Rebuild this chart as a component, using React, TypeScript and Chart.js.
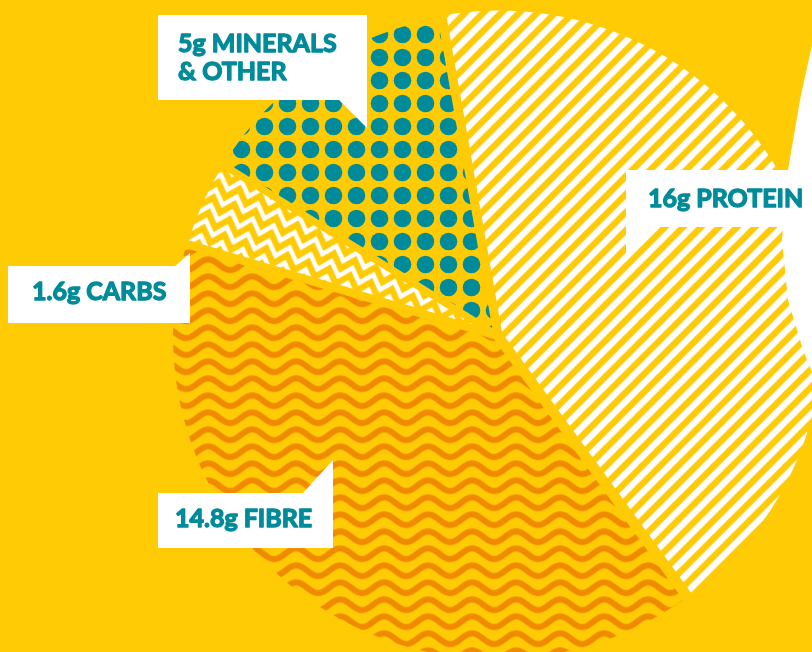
import React, { useEffect, useRef } from 'react';
import { Chart, registerables } from 'chart.js';

Chart.register(...registerables);

// ---- data ----
const categories = ['PROTEIN', 'FIBRE', 'CARBS', 'MINERALS\n& OTHER'];
const grams = [16, 14.8, 1.6, 5];

// ---- styles ----
const BG = '#FFCB05';
const TEAL = '#008B9A';
const ORANGE = '#F08A00';
const WHITE = '#FFFFFF';

// callout boxes (layout only), one per category index
const CALLOUTS = [
  { box: [626, 170, 200, 57], tip: [[626, 226], [626, 260], [659, 226]], text: [648, 207] },
  { box: [158, 493, 175, 55], tip: [[302, 494], [333, 460], [333, 494]], text: [175, 527] },
  { box: [8, 266, 182, 57], tip: [[174, 267], [190, 253], [190, 267]], text: [32, 300] },
  { box: [158, 15, 209, 85], tip: [[338, 99], [367, 128], [367, 99]], text: [178, 52] },
];

function makePattern(ctx: CanvasRenderingContext2D, w: number, h: number, draw: (g: CanvasRenderingContext2D) => void) {
  const c = document.createElement('canvas');
  c.width = w;
  c.height = h;
  const g = c.getContext('2d')!;
  g.fillStyle = BG;
  g.fillRect(0, 0, w, h);
  draw(g);
  return ctx.createPattern(c, 'repeat')!;
}

function stripes(ctx: CanvasRenderingContext2D) {
  const s = 18;
  return makePattern(ctx, s, s, (g) => {
    g.strokeStyle = WHITE;
    g.lineWidth = 6.3;
    g.beginPath();
    for (const k of [-1, 0, 1]) {
      g.moveTo(k * s - 2, s + 2);
      g.lineTo(k * s + s + 2, -2);
    }
    g.stroke();
  });
}

function dots(ctx: CanvasRenderingContext2D) {
  const s = 23;
  return makePattern(ctx, s, s, (g) => {
    g.fillStyle = TEAL;
    g.beginPath();
    g.arc(s / 2, s / 2, 8.8, 0, Math.PI * 2);
    g.fill();
  });
}

function waves(ctx: CanvasRenderingContext2D) {
  const w = 44;
  const h = 17;
  return makePattern(ctx, w, h, (g) => {
    g.strokeStyle = ORANGE;
    g.lineWidth = 6;
    for (const off of [-h, 0, h]) {
      g.beginPath();
      for (let x = -3; x <= w + 3; x += 0.5) {
        const y = h / 2 + off + 5.3 * Math.sin((2 * Math.PI * x) / w);
        if (x === -3) g.moveTo(x, y);
        else g.lineTo(x, y);
      }
      g.stroke();
    }
  });
}

function zigzag(ctx: CanvasRenderingContext2D) {
  const w = 22;
  const h = 16;
  const p = makePattern(ctx, w, h, (g) => {
    g.strokeStyle = WHITE;
    g.lineWidth = 4.5;
    g.lineJoin = 'miter';
    for (const off of [-h, 0, h]) {
      g.beginPath();
      g.moveTo(-11, 14 + off);
      g.lineTo(0, 2 + off);
      g.lineTo(11, 14 + off);
      g.lineTo(22, 2 + off);
      g.lineTo(33, 14 + off);
      g.stroke();
    }
  });
  try {
    p.setTransform(new DOMMatrix().rotate(18));
  } catch (e) {}
  return p;
}

const overlayPlugin = {
  id: 'overlay',
  afterDatasetsDraw(chart: any) {
    const ctx: CanvasRenderingContext2D = chart.ctx;
    ctx.save();
    // white backdrop shape at the right edge
    ctx.fillStyle = WHITE;
    ctx.beginPath();
    ctx.moveTo(812, 45);
    ctx.lineTo(800, 100);
    ctx.lineTo(788, 170);
    ctx.lineTo(782, 240);
    ctx.lineTo(788, 300);
    ctx.lineTo(803, 350);
    ctx.lineTo(812, 372);
    ctx.closePath();
    ctx.fill();

    const labels: string[] = chart.data.labels;
    const values: number[] = chart.data.datasets[0].data;
    labels.forEach((name, i) => {
      const c = CALLOUTS[i];
      const [bx, by, bw, bh] = c.box;
      ctx.fillStyle = WHITE;
      ctx.fillRect(bx, by, bw, bh);
      ctx.beginPath();
      ctx.moveTo(c.tip[0][0], c.tip[0][1]);
      ctx.lineTo(c.tip[1][0], c.tip[1][1]);
      ctx.lineTo(c.tip[2][0], c.tip[2][1]);
      ctx.closePath();
      ctx.fill();
      const lines = (values[i] + 'g ' + name).split('\n');
      ctx.fillStyle = TEAL;
      ctx.strokeStyle = TEAL;
      ctx.lineWidth = 1.3;
      ctx.lineJoin = 'round';
      ctx.font = 'bold 25px Lato';
      ctx.textBaseline = 'alphabetic';
      ctx.textAlign = 'left';
      lines.forEach((ln, k) => {
        ctx.fillText(ln, c.text[0], c.text[1] + k * 28);
        ctx.strokeText(ln, c.text[0], c.text[1] + k * 28);
      });
    });
    ctx.restore();
  },
};

export default function App() {
  const ref = useRef<HTMLCanvasElement>(null);
  useEffect(() => {
    const canvas = ref.current!;
    const ctx = canvas.getContext('2d')!;
    const bg = [stripes(ctx), waves(ctx), zigzag(ctx), dots(ctx)];
    const chart = new Chart(canvas, {
      type: 'pie',
      data: {
        labels: categories,
        datasets: [
          {
            data: grams,
            backgroundColor: bg as any,
            borderColor: BG,
            borderWidth: 7,
            offset: [8, 6, 0, 0],
            hoverOffset: 0,
            clip: false as any,
          },
        ],
      },
      options: {
        responsive: false,
        animation: false,
        events: [],
        rotation: -10,
        radius: 326,
        layout: { padding: { left: 182, top: 18, right: 0, bottom: 0 } },
        plugins: { legend: { display: false }, tooltip: { enabled: false } },
      } as any,
      plugins: [overlayPlugin],
    });
    return () => chart.destroy();
  }, []);
  return (
    <div style={{ position: 'fixed', left: 0, top: 0, width: 812, height: 652, background: BG, overflow: 'hidden' }}>
      <canvas ref={ref} width={812} height={652} style={{ display: 'block' }} />
    </div>
  );
}
